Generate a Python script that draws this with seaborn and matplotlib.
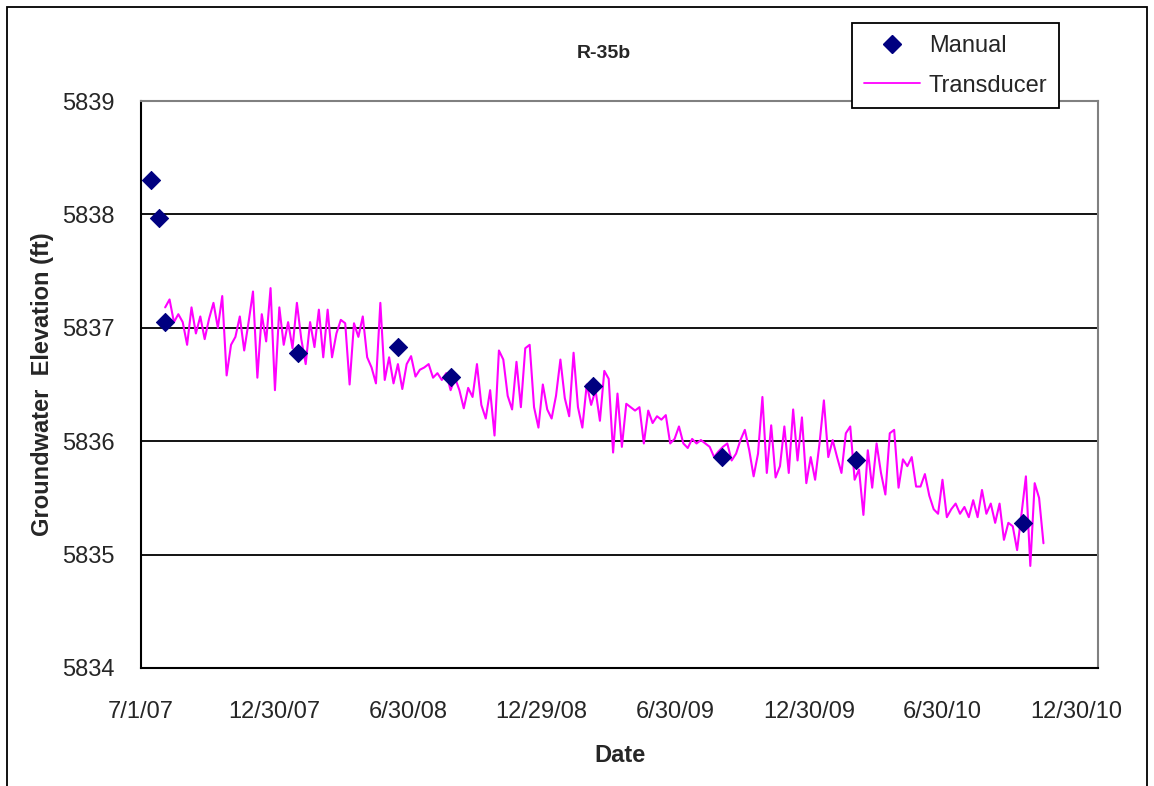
import matplotlib
matplotlib.use('Agg')
import matplotlib.pyplot as plt
from matplotlib.lines import Line2D
from matplotlib.patches import Rectangle
import numpy as np
import pandas as pd
import seaborn as sns

# manual water level measurements
manual_dates = ['2007-07-14', '2007-07-25', '2007-08-03', '2008-01-31', '2008-06-16',
                '2008-08-27', '2009-03-09', '2009-09-02', '2010-03-04', '2010-10-18']
manual_elev = [5838.30, 5837.97, 5837.05, 5836.78, 5836.83,
               5836.57, 5836.49, 5835.86, 5835.83, 5835.28]

# transducer record, one reading every 6 days from 2007-08-03
transducer_start = '2007-08-03'
transducer_step = '6D'
transducer_elev = [
    5837.18, 5837.25, 5837.05, 5837.12, 5837.05, 5836.85, 5837.18, 5836.95, 5837.10, 5836.90,
    5837.08, 5837.22, 5837.00, 5837.28, 5836.58, 5836.85, 5836.92, 5837.10, 5836.80, 5837.05,
    5837.32, 5836.56, 5837.12, 5836.88, 5837.35, 5836.45, 5837.18, 5836.85, 5837.05, 5836.82,
    5837.22, 5836.90, 5836.68, 5837.05, 5836.83, 5837.16, 5836.74, 5837.16, 5836.74, 5836.95,
    5837.07, 5837.04, 5836.50, 5837.04, 5836.92, 5837.10, 5836.74, 5836.65, 5836.51, 5837.22,
    5836.54, 5836.74, 5836.51, 5836.68, 5836.46, 5836.68, 5836.75, 5836.57, 5836.63, 5836.65,
    5836.68, 5836.56, 5836.60, 5836.54, 5836.60, 5836.45, 5836.56, 5836.45, 5836.29, 5836.47,
    5836.39, 5836.68, 5836.32, 5836.20, 5836.45, 5836.05, 5836.80, 5836.72, 5836.40, 5836.28,
    5836.70, 5836.30, 5836.82, 5836.85, 5836.30, 5836.12, 5836.50, 5836.28, 5836.20, 5836.40,
    5836.72, 5836.38, 5836.22, 5836.78, 5836.30, 5836.12, 5836.50, 5836.32, 5836.45, 5836.18,
    5836.62, 5836.55, 5835.90, 5836.42, 5835.95, 5836.33, 5836.30, 5836.27, 5836.30, 5835.98,
    5836.27, 5836.16, 5836.22, 5836.19, 5836.23, 5835.98, 5836.02, 5836.13, 5835.98, 5835.94,
    5836.02, 5835.98, 5836.01, 5835.98, 5835.95, 5835.86, 5835.91, 5835.95, 5835.98, 5835.83,
    5835.89, 5836.01, 5836.10, 5835.92, 5835.69, 5835.89, 5836.39, 5835.72, 5836.14, 5835.68,
    5835.78, 5836.13, 5835.72, 5836.28, 5835.83, 5836.21, 5835.63, 5835.86, 5835.66, 5835.98,
    5836.36, 5835.86, 5836.01, 5835.86, 5835.72, 5836.07, 5836.13, 5835.66, 5835.75, 5835.35,
    5835.92, 5835.59, 5835.98, 5835.72, 5835.53, 5836.07, 5836.10, 5835.59, 5835.84, 5835.78,
    5835.86, 5835.60, 5835.60, 5835.71, 5835.52, 5835.40, 5835.36, 5835.66, 5835.33, 5835.40,
    5835.45, 5835.36, 5835.42, 5835.33, 5835.48, 5835.33, 5835.57, 5835.36, 5835.45, 5835.28,
    5835.45, 5835.13, 5835.28, 5835.25, 5835.04, 5835.36, 5835.69, 5834.90, 5835.63, 5835.50,
    5835.10,
]

tick_dates = ['2007-07-01', '2007-12-30', '2008-06-30', '2008-12-29',
              '2009-06-30', '2009-12-30', '2010-06-30', '2010-12-30']
tick_labels = ['7/1/07', '12/30/07', '6/30/08', '12/29/08',
               '6/30/09', '12/30/09', '6/30/10', '12/30/10']
y_ticks = [5834, 5835, 5836, 5837, 5838, 5839]

sns.set_style('white')
plt.rcParams['font.family'] = ['Liberation Sans', 'DejaVu Sans']

t_dates = pd.date_range(transducer_start, periods=len(transducer_elev), freq=transducer_step)
m_dates = pd.to_datetime(manual_dates)

fig = plt.figure(figsize=(11.54, 7.86), dpi=100)
ax = fig.add_axes([141 / 1154, 1 - 668 / 786, (1098 - 141) / 1154, (668 - 101) / 786])

sns.lineplot(x=t_dates, y=transducer_elev, ax=ax, color='#FF00FF', lw=1.5, zorder=3)
sns.scatterplot(x=m_dates, y=manual_elev, ax=ax, marker='D', color='#000080',
                edgecolor='#000080', s=85, zorder=4)

x0 = pd.Timestamp('2007-07-01')
ax.set_xlim(x0, x0 + pd.Timedelta(days=1307.5))
ax.set_ylim(5834, 5839)
ax.set_xticks(pd.to_datetime(tick_dates))
ax.set_xticklabels(tick_labels)
ax.set_yticks(y_ticks)
ax.set_yticklabels([str(v) for v in y_ticks])
ax.tick_params(axis='both', labelsize=17, direction='out', length=7, width=1.3, color='black')
ax.tick_params(axis='x', pad=17)
ax.tick_params(axis='y', pad=12)
ax.yaxis.grid(True, color='black', lw=1.3)
ax.xaxis.grid(False)
ax.set_axisbelow(True)

for side in ['left', 'bottom']:
    ax.spines[side].set_color('black')
    ax.spines[side].set_linewidth(1.5)
for side in ['top', 'right']:
    ax.spines[side].set_color('#808080')
    ax.spines[side].set_linewidth(1.5)

ax.set_xlabel('Date', fontsize=17, fontweight='bold', labelpad=15)
ax.set_ylabel('Groundwater  Elevation (ft)', fontsize=17, fontweight='bold', labelpad=6)
fig.text(604 / 1154, 1 - 53 / 786, 'R-35b', fontsize=14, fontweight='bold',
         ha='center', va='center')

handles = [Line2D([], [], marker='D', color='#000080', ls='none', markersize=9),
           Line2D([], [], color='#FF00FF', lw=1.3)]
leg = ax.legend(handles, ['Manual', 'Transducer'], loc='upper left',
                bbox_to_anchor=(852 / 1154, 1 - 23 / 786), bbox_transform=fig.transFigure,
                borderaxespad=0, fontsize=17, frameon=True, fancybox=False,
                edgecolor='black', framealpha=1, handlelength=2.4, handletextpad=0.35,
                labelspacing=0.75, borderpad=0.5)
leg.get_frame().set_linewidth(1.3)
leg.set_zorder(10)

fig.patches.append(Rectangle((7 / 1154, -0.02), 1140 / 1154, 1.02 - 7 / 786,
                             transform=fig.transFigure, fill=False,
                             edgecolor='black', lw=1.3))

fig.savefig('out.png', dpi=100)
